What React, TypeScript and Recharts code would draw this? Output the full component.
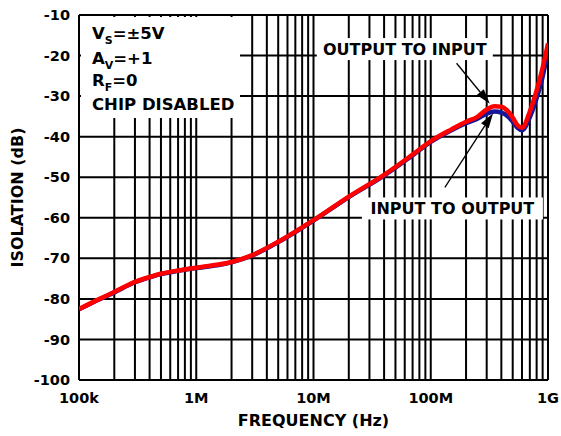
import React from 'react';
import {
  ComposedChart, Line, XAxis, YAxis, CartesianGrid, ReferenceArea, ReferenceLine, ReferenceDot,
} from 'recharts';

// frequency points (Hz) and the two isolation curves (dB)
const FREQ = [
  1e5, 1.5e5, 2e5, 3e5, 4e5, 5e5, 7e5, 1e6, 1.5e6, 2e6, 3e6, 5e6, 7e6, 1e7, 2e7, 4e7, 7e7,
  1e8, 1.5e8, 2e8, 2.5e8, 3e8, 3.5e8, 4e8, 4.5e8, 5e8, 5.5e8, 6e8, 7e8, 8e8, 9e8, 1e9,
];
const OUTPUT_TO_INPUT = [
  -82.5, -80, -78.3, -75.8, -74.6, -73.8, -73, -72.3, -71.6, -70.9, -69.2, -65.9, -63.4, -60.6, -54.8, -49.4, -44.4,
  -41.1, -38.2, -36.3, -35.1, -33.3, -32.5, -32.6, -33.6, -35.3, -37.2, -37.8, -33.8, -28.6, -23, -17,
];
const INPUT_TO_OUTPUT = [
  -82.6, -80.1, -78.4, -75.9, -74.7, -73.9, -73.1, -72.4, -71.7, -71, -69.3, -66, -63.5, -60.7, -54.9, -49.6, -44.6,
  -41.3, -38.4, -36.7, -35.6, -34.3, -33.8, -34.1, -34.9, -36.3, -37.8, -38.4, -35.2, -30.5, -25.2, -18.7,
];

const DECADES = [1e5, 1e6, 1e7, 1e8, 1e9];
const DECADE_LABELS = ['100k', '1M', '10M', '100M', '1G'];
const DB_TICKS = [-100, -90, -80, -70, -60, -50, -40, -30, -20, -10];
const CONDITIONS: [string, string, string][] = [
  ['V', 'S', '=±5V'],
  ['A', 'V', '=+1'],
  ['R', 'F', '=0'],
  ['CHIP DISABLED', '', ''],
];

const FONT = '"DejaVu Sans", Arial, sans-serif';

const data = FREQ.map((f, i) => ({ f, out: OUTPUT_TO_INPUT[i], inp: INPUT_TO_OUTPUT[i] }));

const xTicks: number[] = [];
DECADES.slice(0, -1).forEach((d) => {
  for (let m = 1; m < 10; m++) xTicks.push(d * m);
});
xTicks.push(DECADES[DECADES.length - 1]);

const fmtFreq = (v: number) => {
  const i = DECADES.findIndex((d) => Math.abs(d - v) < 1);
  return i >= 0 ? DECADE_LABELS[i] : '';
};

const Arrow = (p: any) => {
  const { x1, y1, x2, y2 } = p;
  const a = Math.atan2(y2 - y1, x2 - x1);
  const len = 15;
  const half = 4.5;
  const bx = x2 - len * Math.cos(a);
  const by = y2 - len * Math.sin(a);
  const px = -Math.sin(a) * half;
  const py = Math.cos(a) * half;
  return (
    <g>
      <line x1={x1} y1={y1} x2={bx} y2={by} stroke="#000" strokeWidth={1.3} />
      <polygon points={`${x2},${y2} ${bx + px},${by + py} ${bx - px},${by - py}`} fill="#000" />
    </g>
  );
};

const callout = (text: string, w: number) => (p: any) => (
  <g>
    <rect x={p.cx - w / 2} y={p.cy - 11} width={w} height={22} fill="#fff" />
    <text x={p.cx} y={p.cy + 6} textAnchor="middle" fontFamily={FONT} fontWeight={700} fontSize={16} fill="#000">
      {text}
    </text>
  </g>
);

const ConditionsBox = (p: any) => {
  const { x, y, width, height } = p;
  const base = [22, 47, 69, 93];
  return (
    <g>
      <rect x={x} y={y} width={width} height={height} fill="#fff" />
      {CONDITIONS.map(([a, sub, rest], i) => (
        <text key={i} x={x + 11} y={y + base[i]} fontFamily={FONT} fontWeight={700} fontSize={16.5} fill="#000">
          <tspan>{a}</tspan>
          {sub && <tspan dy={5} fontSize={11}>{sub}</tspan>}
          {rest && <tspan dy={-5}>{rest}</tspan>}
        </text>
      ))}
    </g>
  );
};

const YTitle = (p: any) => {
  const vb = p.viewBox || { x: 0, y: 15, width: 79, height: 365 };
  const cx = 17;
  const cy = vb.y + vb.height / 2;
  return (
    <text x={cx} y={cy} transform={`rotate(-90 ${cx} ${cy})`} textAnchor="middle" dominantBaseline="central"
      fontFamily={FONT} fontWeight={700} fontSize={16} fill="#000">
      ISOLATION (dB)
    </text>
  );
};

const XTitle = (p: any) => {
  const vb = p.viewBox || { x: 79, y: 380, width: 469, height: 56 };
  return (
    <text x={vb.x + vb.width / 2} y={426} textAnchor="middle"
      fontFamily={FONT} fontWeight={700} fontSize={16} fill="#000">
      FREQUENCY (Hz)
    </text>
  );
};

const tickStyle = { fontSize: 14.5, fontWeight: 700, fill: '#000', fontFamily: FONT };

export default function App() {
  return (
    <div style={{ position: 'absolute', left: 0, top: 0, background: '#fff' }}>
      <ComposedChart width={561} height={436} data={data} margin={{ top: 15, right: 13, bottom: 0, left: 0 }}>
        <CartesianGrid stroke="#000" strokeWidth={2} strokeOpacity={1} />
        <XAxis
          dataKey="f" type="number" scale="log" domain={[1e5, 1e9]} ticks={xTicks} interval={0}
          allowDataOverflow tickFormatter={fmtFreq} tickLine={false} axisLine={false} tickSize={0}
          tickMargin={13} height={56} tick={tickStyle} label={(p: any) => <XTitle {...p} />}
        />
        <YAxis
          type="number" domain={[-100, -10]} ticks={DB_TICKS} interval={0} width={79}
          tickLine={false} axisLine={false} tickSize={0} tickMargin={9} tick={tickStyle}
          label={(p: any) => <YTitle {...p} />}
        />
        <ReferenceArea x1={1.04e5} x2={2.36e6} y1={-35.4} y2={-10.5} shape={ConditionsBox} />
        <ReferenceDot x={6.01e7} y={-18.4} r={0} shape={callout('OUTPUT TO INPUT', 176)} />
        <ReferenceDot x={1.53e8} y={-57.7} r={0} shape={callout('INPUT TO OUTPUT', 181)} />
        <Line dataKey="inp" type="monotone" stroke="#16169a" strokeWidth={4.5} dot={false} isAnimationActive={false} />
        <Line dataKey="out" type="monotone" stroke="#ff0000" strokeWidth={4.5} dot={false} isAnimationActive={false} />
        <ReferenceLine segment={[{ x: 1.66e8, y: -21.9 }, { x: 3.19e8, y: -31.9 }]} shape={Arrow} />
        <ReferenceLine segment={[{ x: 1.32e8, y: -52.5 }, { x: 3.4e8, y: -34.2 }]} shape={Arrow} />
      </ComposedChart>
    </div>
  );
}
